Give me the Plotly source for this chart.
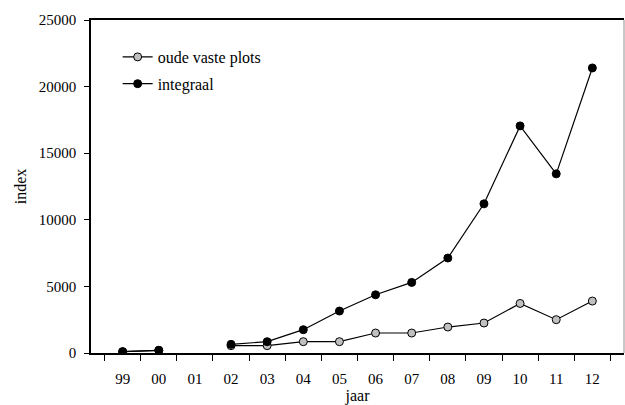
import plotly.graph_objects as go

years = ["99", "00", "01", "02", "03", "04", "05", "06", "07", "08", "09", "10", "11", "12"]
oude_vaste_plots = [100, 200, None, 550, 550, 850, 850, 1500, 1500, 1950, 2250, 3720, 2500, 3900]
integraal = [100, 200, None, 650, 850, 1750, 3150, 4370, 5300, 7130, 11200, 17050, 13450, 21400]

FONT = "Liberation Serif"

fig = go.Figure()
fig.add_trace(go.Scatter(
    x=years, y=oude_vaste_plots, name="oude vaste plots", mode="lines+markers", legendgroup="a",
    line=dict(color="black", width=1.2),
    marker=dict(size=8, color="#c0c0c0", line=dict(color="black", width=1)),
    connectgaps=False,
))
fig.add_trace(go.Scatter(
    x=years, y=integraal, name="integraal", mode="lines+markers", legendgroup="b",
    line=dict(color="black", width=1.2),
    marker=dict(size=8, color="black", line=dict(color="black", width=1)),
    connectgaps=False,
))

fig.update_layout(
    width=625, height=405,
    margin=dict(l=91, r=1, t=20, b=52),
    paper_bgcolor="white", plot_bgcolor="white",
    font=dict(family=FONT, size=15, color="black"),
    showlegend=True,
    legend=dict(
        x=0.05, y=0.94, xanchor="left", yanchor="top",
        bgcolor="rgba(0,0,0,0)", font=dict(size=16, family=FONT),
        traceorder="grouped", itemwidth=30, tracegroupgap=3,
    ),
    xaxis=dict(
        type="category", categoryorder="array", categoryarray=years,
        tickson="boundaries", ticks="outside", ticklen=6, tickcolor="black",
        showline=True, linecolor="black", linewidth=1.5, mirror=True,
        showgrid=False, zeroline=False,
        tickfont=dict(size=15, family=FONT), ticklabelstandoff=11,
        title=dict(text="jaar", font=dict(size=16, family=FONT), standoff=6),
    ),
    yaxis=dict(
        range=[0, 25000], dtick=5000, tickformat="d", ticks="outside", ticklen=5, tickcolor="black",
        showline=True, linecolor="black", linewidth=1.5,
        showgrid=False, zeroline=False,
        tickfont=dict(size=15, family=FONT), ticklabelstandoff=5,
        title=dict(text="index", font=dict(size=16, family=FONT), standoff=8),
    ),
)
fig.add_shape(type="line", xref="paper", yref="paper", x0=1, x1=1, y0=0, y1=1,
              line=dict(color="#909090", width=1))

fig.write_html("out.html")
